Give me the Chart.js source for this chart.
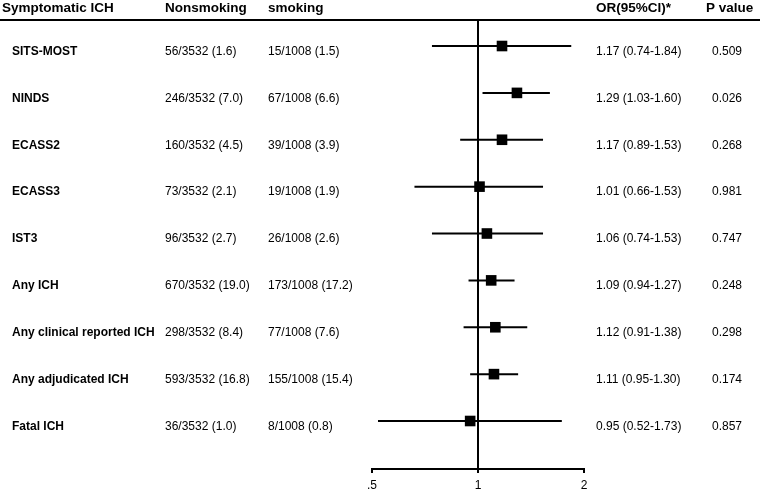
<!DOCTYPE html>
<html>
<head>
<meta charset="utf-8">
<script src="https://cdn.jsdelivr.net/npm/chart.js@4.4.0/dist/chart.umd.min.js"></script>
<style>
  html, body { margin: 0; padding: 0; background: #fff; }
  #wrap { width: 760px; height: 489px; position: relative; }
</style>
</head>
<body>
<div id="wrap"><canvas id="forest"></canvas></div>
<script>
// ---------------- DATA ----------------
const studies = ["SITS-MOST", "NINDS", "ECASS2", "ECASS3", "IST3", "Any ICH",
  "Any clinical reported ICH", "Any adjudicated ICH", "Fatal ICH"];
const nonsmoking = ["56/3532 (1.6)", "246/3532 (7.0)", "160/3532 (4.5)", "73/3532 (2.1)",
  "96/3532 (2.7)", "670/3532 (19.0)", "298/3532 (8.4)", "593/3532 (16.8)", "36/3532 (1.0)"];
const smoking = ["15/1008 (1.5)", "67/1008 (6.6)", "39/1008 (3.9)", "19/1008 (1.9)",
  "26/1008 (2.6)", "173/1008 (17.2)", "77/1008 (7.6)", "155/1008 (15.4)", "8/1008 (0.8)"];
const orValue = [1.17, 1.29, 1.17, 1.01, 1.06, 1.09, 1.12, 1.11, 0.95];
const ciLow = [0.74, 1.03, 0.89, 0.66, 0.74, 0.94, 0.91, 0.95, 0.52];
const ciHigh = [1.84, 1.60, 1.53, 1.53, 1.53, 1.27, 1.38, 1.30, 1.73];
const pValues = ["0.509", "0.026", "0.268", "0.981", "0.747", "0.248", "0.298", "0.174", "0.857"];
const headers = ["Symptomatic ICH", "Nonsmoking", "smoking", "OR(95%CI)*", "P value"];
const xTicks = [0.5, 1, 2];
const refLine = 1;

// ---------------- DATASETS ----------------
const ciSets = studies.map((s, i) => ({
  type: "line",
  data: [{ x: ciLow[i], y: i }, { x: ciHigh[i], y: i }],
  borderColor: "#000",
  borderWidth: 2,
  pointRadius: 0,
  fill: false
}));

const pointSet = {
  type: "scatter",
  data: orValue.map((v, i) => ({ x: v, y: i })),
  pointStyle: "rect",
  pointRadius: 7.5,   // rect side = radius * sqrt(2)
  backgroundColor: "#000",
  borderColor: "#000",
  borderWidth: 0
};

// ---------------- TEXT + REF LINES ----------------
const tablePlugin = {
  id: "table",
  afterDraw(chart) {
    const c = chart.ctx;
    const xs = chart.scales.x, ys = chart.scales.y;
    const area = chart.chartArea;
    c.save();

    // reference line at OR = 1
    c.strokeStyle = "#000";
    c.lineWidth = 2;
    c.beginPath();
    c.moveTo(xs.getPixelForValue(refLine), area.top);
    c.lineTo(xs.getPixelForValue(refLine), area.bottom);
    c.stroke();

    // header rule
    c.beginPath();
    c.moveTo(0, area.top);
    c.lineTo(chart.width, area.top);
    c.stroke();

    c.fillStyle = "#000";
    c.textBaseline = "middle";
    c.font = "bold 13.5px 'Liberation Sans', Arial, sans-serif";
    const hx = [2, 165, 268, 596, 706];
    headers.forEach((h, k) => c.fillText(h, hx[k], 8));

    studies.forEach((s, i) => {
      const y = ys.getPixelForValue(i) + 5.5;
      c.font = "bold 12px 'Liberation Sans', Arial, sans-serif";
      c.fillText(s, 12, y);
      c.font = "12px 'Liberation Sans', Arial, sans-serif";
      c.fillText(nonsmoking[i], 165, y);
      c.fillText(smoking[i], 268, y);
      c.fillText(orValue[i].toFixed(2) + " (" + ciLow[i].toFixed(2) + "-" + ciHigh[i].toFixed(2) + ")", 596, y);
      c.fillText(pValues[i], 712, y);
    });
    c.restore();
  }
};

// ---------------- CHART ----------------
const ctx = document.getElementById("forest").getContext("2d");

new Chart(ctx, {
  data: { datasets: [...ciSets, pointSet] },
  options: {
    responsive: true,
    maintainAspectRatio: false,
    animation: false,
    layout: { padding: { left: 372, right: 176, top: 20, bottom: 0 } },
    plugins: { legend: { display: false }, tooltip: { enabled: false } },
    scales: {
      x: {
        type: "logarithmic",
        min: 0.5,
        max: 2,
        afterBuildTicks: axis => { axis.ticks = xTicks.map(v => ({ value: v })); },
        afterFit: axis => { axis.height = 20; },
        ticks: {
          color: "#000",
          padding: 5,
          maxRotation: 0,
          autoSkip: false,
          font: { family: "'Liberation Sans', Arial, sans-serif", size: 12 },
          callback: v => (v === 0.5 ? ".5" : String(v))
        },
        grid: { display: true, drawOnChartArea: false, drawTicks: true, tickLength: 4, color: "#000", lineWidth: 2 },
        border: { display: true, color: "#000", width: 2 }
      },
      y: {
        type: "linear",
        reverse: true,
        min: -0.555,
        max: 9.024,
        display: false
      }
    }
  },
  plugins: [tablePlugin]
});
</script>
</body>
</html>
